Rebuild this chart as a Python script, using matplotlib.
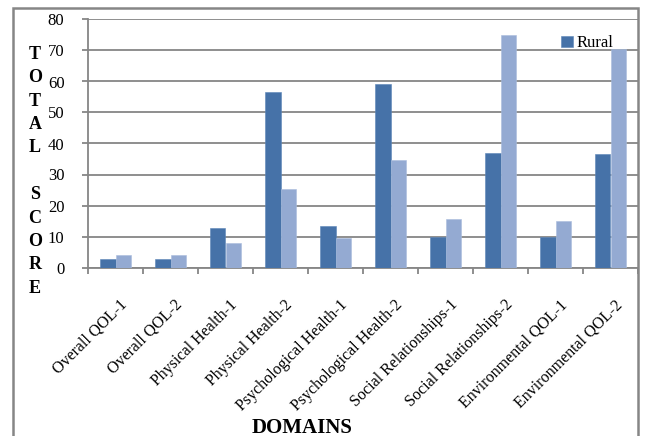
import numpy as np
import matplotlib
matplotlib.use('Agg')
import matplotlib.pyplot as plt
from matplotlib.patches import Rectangle
from matplotlib.transforms import ScaledTranslation

plt.rcParams['font.family'] = ['Liberation Serif', 'DejaVu Serif']

domains = ['Overall QOL-1', 'Overall QOL-2', 'Physical Health-1', 'Physical Health-2',
           'Psychological Health-1', 'Psychological Health-2', 'Social Relationships-1',
           'Social Relationships-2', 'Environmental QOL-1', 'Environmental QOL-2']
rural = [2.9, 2.9, 12.8, 56.5, 13.5, 59.3, 10.0, 37.0, 10.0, 36.5]
urban = [4.0, 4.0, 8.0, 25.3, 9.5, 34.7, 15.8, 75.0, 15.0, 70.4]

dark = '#4672a8'
light = '#94aad2'
grey = '#868686'

W, H = 645, 436
fig = plt.figure(figsize=(W / 100, H / 100), dpi=100)
ax = fig.add_axes([88 / W, 1 - 267.5 / H, (638 - 88) / W, (267.5 - 19.5) / H])

x = np.arange(len(domains))
w = 0.28
ax.bar(x - w / 2, rural, w, color=dark, edgecolor='#5b85b8', linewidth=0.4, label='Rural', zorder=3)
ax.bar(x + w / 2, urban, w, color=light, edgecolor='#a9bcdc', linewidth=0.4, label='Urban', zorder=3)

ax.set_xlim(-0.5, len(domains) - 0.5)
ax.set_ylim(0, 80)
ax.set_yticks(np.arange(0, 81, 10))
ax.yaxis.grid(True, color=grey, linewidth=1.3)
ax.set_axisbelow(True)

ax.set_xticks(x)
ax.set_xticklabels(domains, rotation=45, ha='right', va='top', rotation_mode='anchor', fontsize=11.5)
ax.set_xticks(np.arange(-0.5, len(domains)), minor=True)
ax.tick_params(axis='x', which='major', length=0, pad=21)
ax.tick_params(axis='x', which='minor', length=4, width=1.3, color=grey)
ax.tick_params(axis='y', length=4, width=1.3, color=grey, pad=13, labelsize=12)
shift = ScaledTranslation(4 / 100, 0, fig.dpi_scale_trans)
for lab in ax.get_xticklabels():
    lab.set_transform(lab.get_transform() + shift)

for s in ['top', 'right']:
    ax.spines[s].set_visible(False)
for s in ['left', 'bottom']:
    ax.spines[s].set_color(grey)
    ax.spines[s].set_linewidth(1.3)

# outer chart frame
fig.patches.append(Rectangle((13 / W, -0.1), (638 - 13) / W, 1.1 - 8 / H,
                             transform=fig.transFigure, fill=False,
                             edgecolor=grey, linewidth=1.8))

handles, labels = ax.get_legend_handles_labels()
fig.legend(handles[:1], labels[:1], loc='upper left', bbox_to_anchor=(553 / W, 1 - 27 / H),
           frameon=False, fontsize=12, handlelength=0.7, handleheight=0.7,
           handletextpad=0.2, borderpad=0)

fig.text(35 / W, 1 - 46 / H, 'T\nO\nT\nA\nL\n\nS\nC\nO\nR\nE', ha='center', va='top',
         fontsize=13, fontweight='bold', linespacing=1.49)
fig.text(302 / W, 1 - 418 / H, 'DOMAINS', ha='center', va='top', fontsize=15, fontweight='bold')

fig.savefig('out.png', dpi=100)
